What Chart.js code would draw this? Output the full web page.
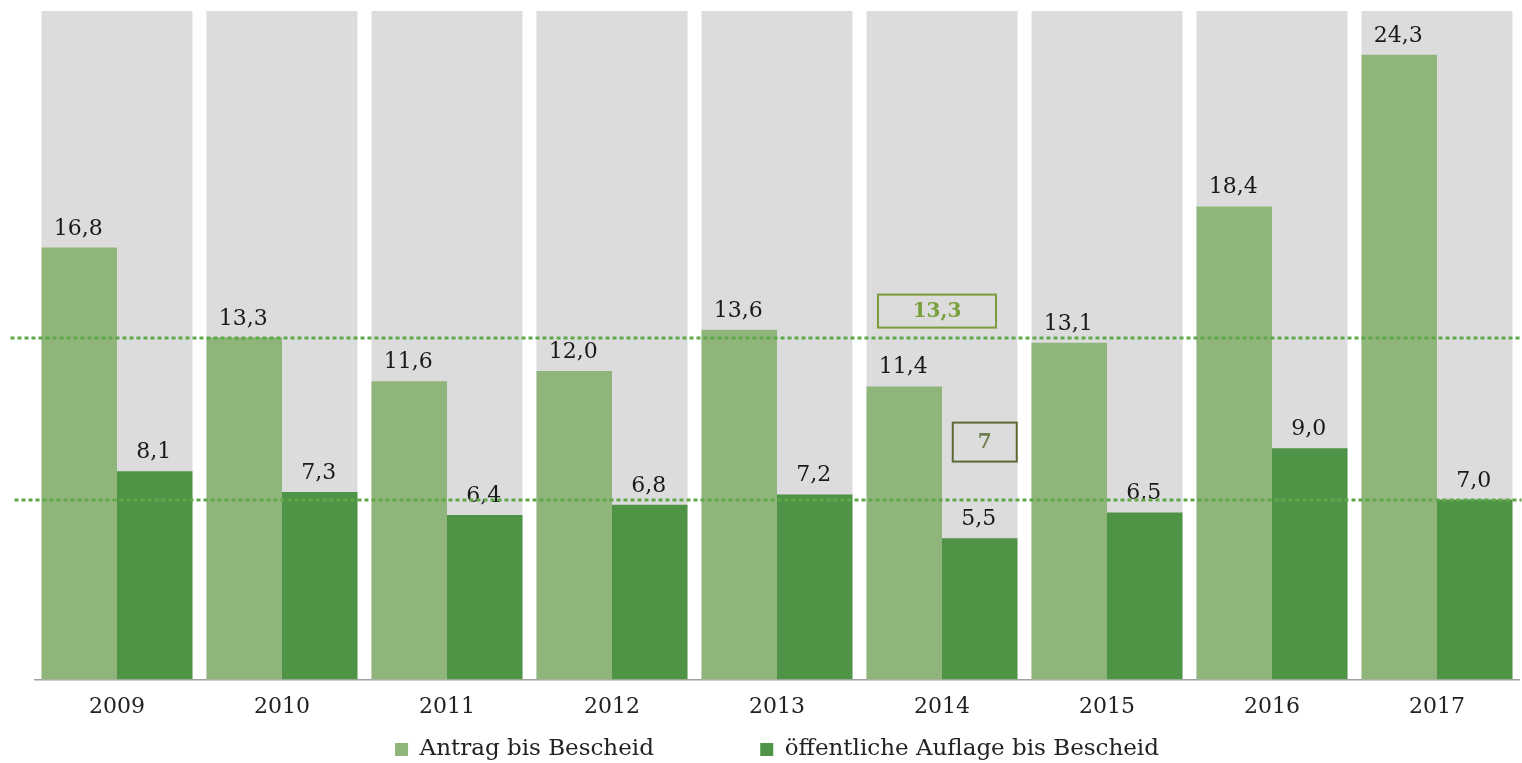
<!DOCTYPE html>
<html>
<head>
<meta charset="utf-8">
<script src="https://cdn.jsdelivr.net/npm/chart.js@4/dist/chart.umd.min.js"></script>
<style>
html,body{margin:0;padding:0;background:#fff;}
#wrap{width:1522px;height:763px;}
</style>
</head>
<body>
<div id="wrap"><canvas id="c" width="1522" height="763"></canvas></div>
<script>
const categories = ['2009','2010','2011','2012','2013','2014','2015','2016','2017'];
const antragBisBescheid = [16.8,13.3,11.6,12.0,13.6,11.4,13.1,18.4,24.3];
const auflageBisBescheid = [8.1,7.3,6.4,6.8,7.2,5.5,6.5,9.0,7.0];
const seriesNames = ['Antrag bis Bescheid','öffentliche Auflage bis Bescheid'];
const referenceValues = [13.3, 7];
const referenceLabels = ['13,3', '7'];
const yMax = 26;

const FONT = "'DejaVu Serif', 'Liberation Serif', serif";
const fmt = v => v.toFixed(1).replace('.', ',');

const bgPlugin = {
  id: 'refs',
  afterDatasetsDraw(chart) {
    const ctx = chart.ctx;
    const x = chart.scales.x, y = chart.scales.y;
    // data labels
    ctx.save();
    ctx.font = '22px ' + FONT;
    ctx.fillStyle = '#1a1a1a';
    ctx.textAlign = 'center';
    ctx.textBaseline = 'alphabetic';
    [0,1].forEach(di => {
      const meta = chart.getDatasetMeta(di);
      meta.data.forEach((bar, i) => {
        const v = chart.data.datasets[di].data[i];
        ctx.fillText(fmt(v), bar.x - 1, bar.y - 13);
      });
    });
    ctx.restore();
    // dotted reference lines
    ctx.save();
    ctx.strokeStyle = '#5ea84a';
    ctx.lineWidth = 3;
    ctx.setLineDash([4, 3]);
    referenceValues.forEach((rv, k) => {
      const py = Math.round(y.getPixelForValue(rv));
      ctx.beginPath();
      ctx.moveTo(chart.chartArea.left - (k === 0 ? 24 : 20), py);
      ctx.lineTo(chart.chartArea.right + 2, py);
      ctx.stroke();
    });
    ctx.restore();
    // annotation boxes
    ctx.save();
    const cx = x.getPixelForValue(5);
    // box 1
    let by = y.getPixelForValue(referenceValues[0]);
    let bx0 = cx - 64, bw = 118, bh = 33, bt = by - 10 - bh;
    ctx.lineWidth = 2;
    ctx.strokeStyle = '#7a9c3a';
    ctx.strokeRect(bx0, bt, bw, bh);
    ctx.fillStyle = '#78a03c';
    ctx.font = 'bold 20px ' + FONT;
    ctx.textAlign = 'center';
    ctx.textBaseline = 'middle';
    ctx.fillText(referenceLabels[0], bx0 + bw / 2, bt + bh / 2 + 1);
    // box 2
    const meta1 = chart.getDatasetMeta(1);
    const dx = meta1.data[5].x;
    by = y.getPixelForValue(referenceValues[1]);
    bw = 64; bh = 39;
    bx0 = dx - 27; bt = by - 77;
    ctx.strokeStyle = '#5a6a32';
    ctx.strokeRect(bx0, bt, bw, bh);
    ctx.fillStyle = '#6d7d50';
    ctx.fillText(referenceLabels[1], bx0 + bw / 2, bt + bh / 2 + 1);
    ctx.restore();
  }
};

new Chart(document.getElementById('c'), {
  type: 'bar',
  data: {
    labels: categories,
    datasets: [
      {label: seriesNames[0], data: antragBisBescheid, backgroundColor: '#8fb57b', order: 1,
       categoryPercentage: 0.915, barPercentage: 1.0},
      {label: seriesNames[1], data: auflageBisBescheid, backgroundColor: '#4f9446', order: 1,
       categoryPercentage: 0.915, barPercentage: 1.0},
      {label: 'bg', data: categories.map(() => yMax), backgroundColor: '#dcdcdc', order: 10,
       grouped: false, barPercentage: 0.915, categoryPercentage: 1.0}
    ]
  },
  options: {
    responsive: false,
    animation: false,
    devicePixelRatio: 1,
    layout: {padding: {left: 34.5, right: 2.5, top: 11, bottom: -8}},
    plugins: {
      tooltip: {enabled: false},
      legend: {
        position: 'bottom',
        labels: {
          color: '#222',
          font: {family: FONT, size: 23},
          boxWidth: 13,
          boxHeight: 13,
          padding: 4,
          filter: item => item.datasetIndex < 2,
          generateLabels(chart) {
            return chart.data.datasets.slice(0, 2).map((ds, i) => ({
              text: i === 0 ? ds.label + ' '.repeat(14) : ds.label,
              fillStyle: ds.backgroundColor,
              strokeStyle: ds.backgroundColor,
              lineWidth: 0,
              hidden: false,
              datasetIndex: i,
              fontColor: '#222'
            }));
          }
        }
      }
    },
    scales: {
      x: {
        grid: {display: false, drawTicks: false},
        border: {display: true, color: '#a0a0a0', width: 1.5},
        ticks: {color: '#222', font: {family: FONT, size: 22}, padding: 14}
      },
      y: {
        display: false,
        min: 0, max: yMax,
        grid: {display: false}
      }
    }
  },
  plugins: [bgPlugin]
});
</script>
</body>
</html>
